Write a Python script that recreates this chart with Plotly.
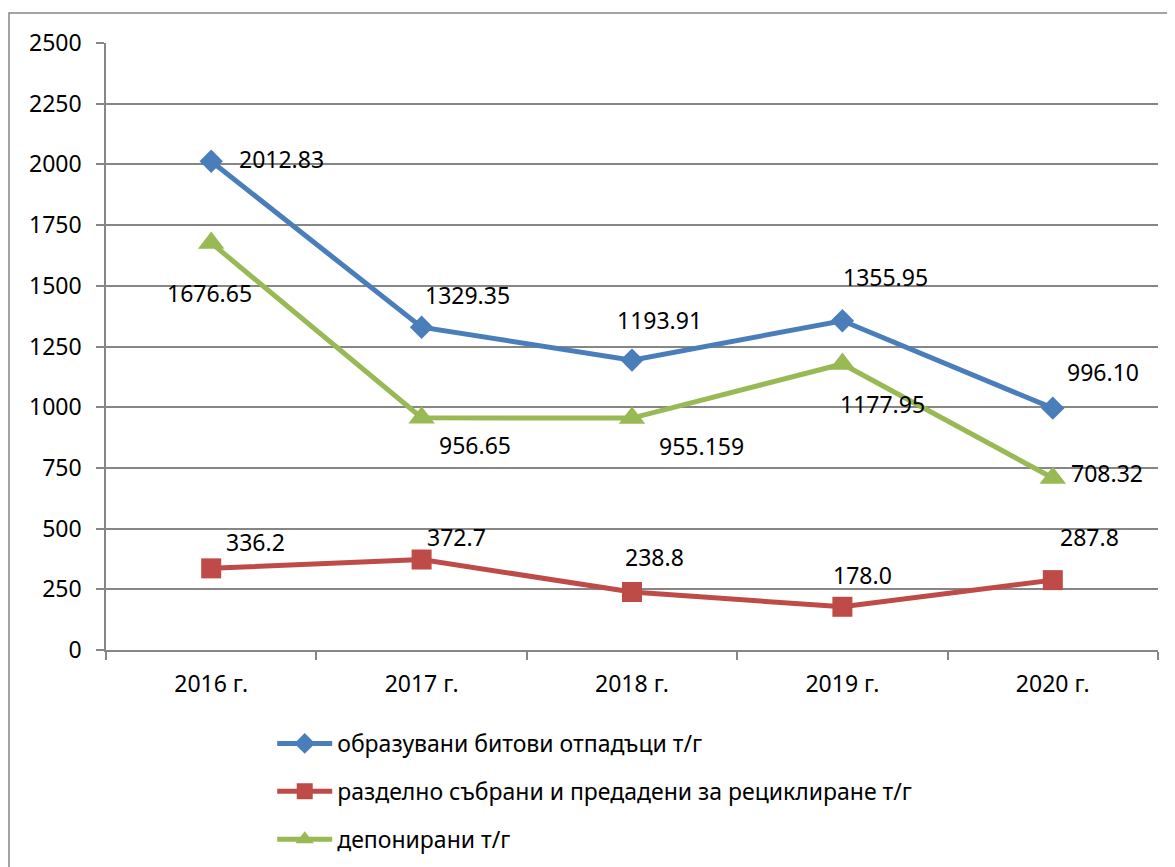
import plotly.graph_objects as go

categories = ["2016 г.", "2017 г.", "2018 г.", "2019 г.", "2020 г."]
generated = [2012.83, 1329.35, 1193.91, 1355.95, 996.10]
recycled = [336.2, 372.7, 238.8, 178.0, 287.8]
landfilled = [1676.65, 956.65, 955.159, 1177.95, 708.32]

generated_labels = ["2012.83", "1329.35", "1193.91", "1355.95", "996.10"]
recycled_labels = ["336.2", "372.7", "238.8", "178.0", "287.8"]
landfilled_labels = ["1676.65", "956.65", "955.159", "1177.95", "708.32"]

names = ["образувани битови отпадъци т/г",
         "разделно събрани и предадени за рециклиране т/г",
         "депонирани т/г"]

FONT = "Noto Sans"
FS = 23

# label offsets (px): (xshift, yshift)
gen_off = [(70, 2), (46, 32), (27, 40), (43, 44), (50, 36)]
rec_off = [(44, 26), (35, 23), (22, 35), (20, 32), (37, 43)]
dep_off = [(-2, -50), (53, -27), (69, -28), (40, -40), (54, 5)]

fig = go.Figure()
series = [
    (generated, generated_labels, gen_off, "#4A7EBB", "diamond", 18, names[0]),
    (recycled, recycled_labels, rec_off, "#BE4B48", "square", 20, names[1]),
    (landfilled, landfilled_labels, dep_off, "#98B954", "triangle-up", 23, names[2]),
]
annotations = []
for i, (vals, labs, offs, col, sym, ms, nm) in enumerate(series):
    fig.add_trace(go.Scatter(
        x=categories, y=vals, mode="lines+markers", name=nm,
        legendgroup=str(i),
        line=dict(color=col, width=5),
        marker=dict(symbol=sym, size=ms, color=col, line=dict(width=0)),
    ))
    for c, v, t, (dx, dy) in zip(categories, vals, labs, offs):
        annotations.append(dict(x=c, y=v, xref="x", yref="y", text=t,
                                showarrow=False, xshift=dx, yshift=dy,
                                font=dict(family=FONT, size=FS, color="black")))

fig.update_layout(
    width=1175, height=867,
    margin=dict(l=98, r=25, t=35, b=225),
    paper_bgcolor="white", plot_bgcolor="white",
    font=dict(family=FONT, size=FS, color="black"),
    showlegend=True,
    legend=dict(x=0.158, y=-0.1186, xanchor="left", yanchor="top",
                traceorder="grouped", tracegroupgap=15,
                font=dict(family=FONT, size=FS, color="black"),
                itemwidth=55),
    annotations=annotations,
    shapes=[dict(type="rect", xref="paper", yref="paper",
                 x0=-0.0922, x1=1.2, y0=-0.6, y1=1.0494,
                 line=dict(color="#868686", width=1.5), layer="below")],
)
fig.update_xaxes(type="category", range=[-0.5, 4.5], showgrid=False,
                 showline=True, linecolor="#868686", linewidth=1.5,
                 ticks="outside", tickson="boundaries", ticklen=8,
                 tickcolor="#868686", tickwidth=1.5, ticklabelstandoff=13,
                 tickfont=dict(family=FONT, size=FS))
fig.update_yaxes(range=[0, 2500], dtick=250, tick0=0, showgrid=True,
                 gridcolor="#868686", gridwidth=1.5, zeroline=False,
                 showline=True, linecolor="#868686", linewidth=1.5,
                 ticks="outside", ticklen=8, tickcolor="#868686", tickwidth=1.5,
                 ticklabelstandoff=10,
                 tickfont=dict(family=FONT, size=FS))

fig.write_html("out.html")
